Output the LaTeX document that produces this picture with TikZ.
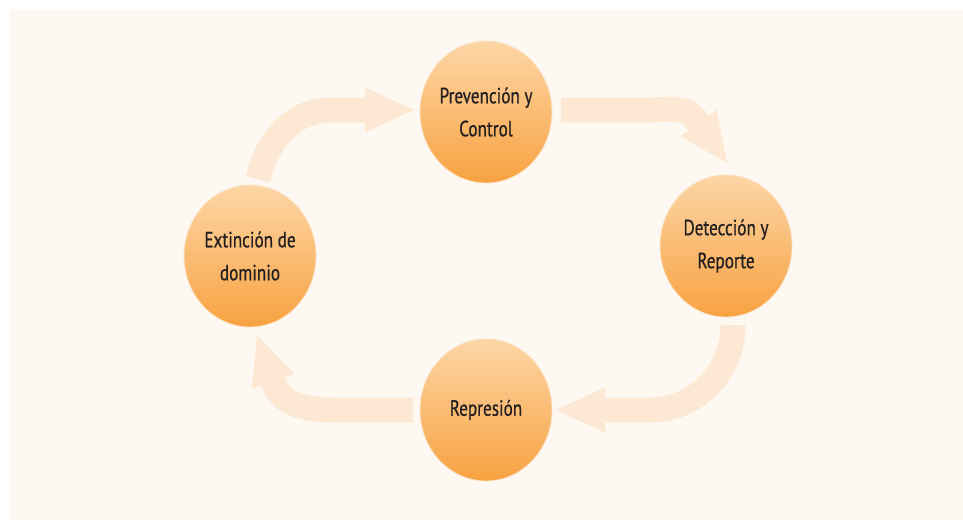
\documentclass[tikz,border=0pt]{standalone}
\usepackage{fontspec}
\newfontfamily\labelfont{PT Sans}[FakeStretch=0.78,FakeBold=0.6]
\usetikzlibrary{shapes.geometric,arrows.meta}
\definecolor{panel}{HTML}{FDF8F2}
\definecolor{flow}{HTML}{FDE9D3}
\definecolor{disctop}{HTML}{FCD6A6}
\definecolor{discbot}{HTML}{F8A241}
\definecolor{discrim}{HTML}{FCE2C4}
\definecolor{ink}{HTML}{231F20}
\begin{document}
\begin{tikzpicture}[x=1pt,y=-1pt,
  stage/.style={ellipse, minimum width=132pt, minimum height=142pt,
    inner xsep=-8pt, inner ysep=0pt,
    top color=disctop, bottom color=discbot, draw=discrim, line width=0.8pt,
    text=ink, align=center, font={\labelfont\fontsize{22}{33}\selectfont}},
  flowarrow/.style={draw=flow, line width=25pt,
    -{Triangle[length=49pt,width=45pt,line width=0pt]}},
]
\useasboundingbox (0,0) rectangle (963,520);
% cream panel
\fill[panel] (10,10) rectangle (963,520);

% stages of the cycle
\node[stage] (prev) at (486,112) {Prevención y\\Control};
\node[stage] (det)  at (726,246) {Detección y\\Reporte};
\node[stage] (rep)  at (486,410) {Represión};
\node[stage] (ext)  at (250,256) {Extinción de\\dominio};

% ends of the curved flow arrows
\coordinate (a1s) at (258,179);
\coordinate (a1t) at (414,110);
\coordinate (a2s) at (561,110);
\coordinate (a2t) at (727,163);
\coordinate (a3s) at (733,325);
\coordinate (a3t) at (556,410);
\coordinate (a4s) at (413,410);
\coordinate (a4t) at (257,335);

% flow arrows between the stages
\draw[flowarrow] (a1s) to[out=77,in=180] (332,110) -- (a1t);
\draw[flowarrow] (a2s) -- (648,110) to[out=0,in=124] (697,121) -- (a2t);
\draw[flowarrow] (a3s) to[out=-90,in=0] (650,410) -- (a3t);
\draw[flowarrow] (a4s) -- (330,410) to[out=180,in=-71,looseness=0.9] (274,384) -- (a4t);
\end{tikzpicture}
\end{document}
